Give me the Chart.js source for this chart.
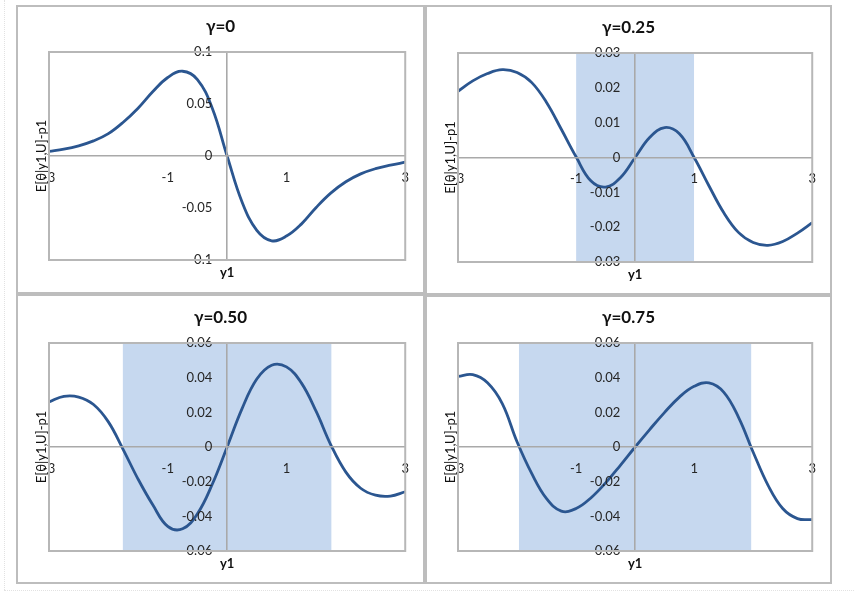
<!DOCTYPE html>
<html>
<head>
<meta charset="utf-8">
<script src="https://cdn.jsdelivr.net/npm/chart.js@4.4.1/dist/chart.umd.min.js"></script>
<style>
  body { margin: 0; background: #fff; font-family: Lato, sans-serif; }
  #page { position: relative; width: 858px; height: 596px; overflow: hidden; }
  .panel { position: absolute; box-sizing: border-box; border: 2px solid #bdbdbd; background: #fff; }
  .panel canvas { position: absolute; left: 0; top: 0; }
  .edge-v { position: absolute; left: 4px; top: 0; height: 590px; border-left: 1px dotted #e2e2e2; }
  .edge-h { position: absolute; left: 4px; top: 590px; width: 850px; border-top: 1px dotted #e2e2e2; }
</style>
</head>
<body>
<div id="page">
  <div class="edge-v"></div>
  <div class="edge-h"></div>
</div>
<script>
// ---- data ----
const xs = [-3, -2.75, -2.5, -2.25, -2, -1.75, -1.5, -1.25, -1, -0.75, -0.5, -0.25, 0,
            0.25, 0.5, 0.75, 1, 1.25, 1.5, 1.75, 2, 2.25, 2.5, 2.75, 3];

const gamma000 = [0.0045, 0.0066, 0.0098, 0.0145, 0.0215, 0.0325, 0.046, 0.062, 0.0755, 0.0815, 0.0735, 0.046, 0,
                  -0.044, -0.0715, -0.0815, -0.077, -0.0655, -0.0495, -0.0355, -0.0248, -0.0172, -0.0122, -0.0088, -0.006];
const gamma025 = [0.019, 0.022, 0.0241, 0.0252, 0.0244, 0.0215, 0.0158, 0.0081, 0.0002, -0.0067, -0.0085, -0.0058, 0,
                  0.0058, 0.0086, 0.0068, 0, -0.0081, -0.0158, -0.0215, -0.0244, -0.0252, -0.0241, -0.0217, -0.0187];
const gamma050 = [0.026, 0.0292, 0.0288, 0.0245, 0.0145, -0.0015, -0.0185, -0.0335, -0.0458, -0.0472, -0.0385, -0.0215, 0,
                  0.022, 0.0392, 0.0472, 0.0462, 0.037, 0.0205, 0.001, -0.0145, -0.0238, -0.0278, -0.0283, -0.0258];
const gamma075 = [0.0407, 0.0417, 0.037, 0.025, 0.003, -0.0154, -0.0298, -0.037, -0.0355, -0.0294, -0.0207, -0.0106, 0,
                  0.0102, 0.020, 0.0288, 0.035, 0.037, 0.0317, 0.0173, -0.003, -0.022, -0.0355, -0.0413, -0.0419];

const titles = ['γ=0', 'γ=0.25', 'γ=0.50', 'γ=0.75'];
const series = [gamma000, gamma025, gamma050, gamma075];

const xTicks = [-3, -1, 1, 3];
const yTicks000 = [-0.1, -0.05, 0, 0.05, 0.1];
const yTicks025 = [-0.03, -0.02, -0.01, 0, 0.01, 0.02, 0.03];
const yTicks050 = [-0.06, -0.04, -0.02, 0, 0.02, 0.04, 0.06];
const yTicks075 = [-0.06, -0.04, -0.02, 0, 0.02, 0.04, 0.06];
const yTickSets = [yTicks000, yTicks025, yTicks050, yTicks075];

// shaded interval on y1 (none for the first panel)
const bandLo = [null, -1, -1.76, -1.97];
const bandHi = [null, 1, 1.76, 1.97];

const xTitle = 'y1';
const yTitle = 'E[θ|y1,U]-p1';

// ---- layout (page pixels): outer box and plot rectangle of each panel ----
const layout = [
  { box: [16, 5, 409, 289],  plot: [49, 52, 407, 260] },
  { box: [425, 5, 407, 290], plot: [458, 53, 817, 262] },
  { box: [16, 294, 409, 290], plot: [49, 343, 407, 551] },
  { box: [425, 295, 407, 289], plot: [458, 343, 817, 551] }
];

const FONT = 'Lato, "Open Sans", sans-serif';
const lineBlue = '#2b5690';
const bandBlue = '#c6d8ef';
const axisGray = '#a9a9a9';
// the centred y axis ignores ticks.padding, so its labels hang from a spot
// a little left of y1=0 and the x=0 line comes from the x grid instead
const yLabelAnchor = -0.25;

// titles, axis titles and plot frame
const decorPlugin = {
  id: 'decor',
  afterDraw(chart, args, opts) {
    const { ctx, chartArea: a } = chart;
    ctx.save();
    ctx.strokeStyle = '#b7b7b7';
    ctx.lineWidth = 2;
    ctx.strokeRect(a.left, a.top, a.right - a.left, a.bottom - a.top);

    ctx.fillStyle = '#111';
    ctx.textAlign = 'center';
    ctx.textBaseline = 'middle';
    ctx.font = 'bold 17px ' + FONT;
    ctx.fillText(opts.title, chart.width / 2, a.top - 25);

    ctx.font = 'bold 13px ' + FONT;
    ctx.fillText(xTitle, chart.scales.x.getPixelForValue(0), a.bottom + 13);

    ctx.font = '13px ' + FONT;
    ctx.translate(a.left - 7, (a.top + a.bottom) / 2);
    ctx.rotate(-Math.PI / 2);
    ctx.fillText(yTitle, 0, 0);
    ctx.restore();
  }
};

const page = document.getElementById('page');

layout.forEach((L, i) => {
  const [bx, by, bw, bh] = L.box;
  const [px0, py0, px1, py1] = L.plot;
  const div = document.createElement('div');
  div.className = 'panel';
  Object.assign(div.style, { left: bx + 'px', top: by + 'px', width: bw + 'px', height: bh + 'px' });
  const cw = bw - 4, ch = bh - 4;
  const canvas = document.createElement('canvas');
  canvas.width = cw; canvas.height = ch;
  canvas.style.width = cw + 'px'; canvas.style.height = ch + 'px';
  div.appendChild(canvas);
  page.appendChild(div);

  const ox = bx + 2, oy = by + 2;
  const ticksY = yTickSets[i];
  const yMin = ticksY[0], yMax = ticksY[ticksY.length - 1];

  const datasets = [{
    data: xs.map((x, k) => ({ x, y: series[i][k] })),
    borderColor: lineBlue,
    borderWidth: 2.8,
    pointRadius: 0,
    tension: 0.4,
    fill: false,
    order: 0
  }];
  if (bandLo[i] !== null) {
    datasets.push({
      data: [{ x: bandLo[i], y: yMax }, { x: bandHi[i], y: yMax }],
      borderWidth: 0,
      borderColor: 'rgba(0,0,0,0)',
      backgroundColor: bandBlue,
      pointRadius: 0,
      fill: 'start',
      order: 1
    });
  }

  new Chart(canvas, {
    type: 'line',
    data: { datasets },
    options: {
      responsive: false,
      animation: false,
      layout: {
        padding: { left: px0 - ox, top: py0 - oy, right: ox + cw - px1, bottom: oy + ch - py1 }
      },
      plugins: {
        legend: { display: false },
        tooltip: { enabled: false },
        decor: { title: titles[i] }
      },
      scales: {
        x: {
          type: 'linear',
          min: -3, max: 3,
          position: { y: 0 },
          // labelled ticks plus an unlabelled one at 0 for the vertical axis line
          afterBuildTicks: s => { s.ticks = xTicks.concat([0]).sort((a, b) => a - b).map(v => ({ value: v })); },
          afterFit: s => { s.height = 0; },
          grid: {
            display: true,
            drawTicks: false,
            z: 1,
            lineWidth: 1.6,
            color: c => (c.tick && c.tick.value === 0) ? axisGray : 'rgba(0,0,0,0)'
          },
          border: { display: true, color: axisGray, width: 1.6, z: 1 },
          ticks: {
            z: 1,
            font: { family: FONT, size: 13 },
            color: '#262626',
            padding: 14,
            maxRotation: 0,
            autoSkip: false,
            callback: v => (v === 0 ? '' : String(v))
          }
        },
        y: {
          type: 'linear',
          min: yMin, max: yMax,
          position: { x: yLabelAnchor },
          afterBuildTicks: s => { s.ticks = ticksY.map(v => ({ value: v })); },
          afterFit: s => { s.width = 0; },
          grid: { display: false, drawTicks: false },
          border: { display: false },
          ticks: {
            z: 1,
            font: { family: FONT, size: 13 },
            color: '#262626',
            autoSkip: false,
            callback: v => String(v)
          }
        }
      }
    },
    plugins: [decorPlugin]
  });
});
</script>
</body>
</html>
